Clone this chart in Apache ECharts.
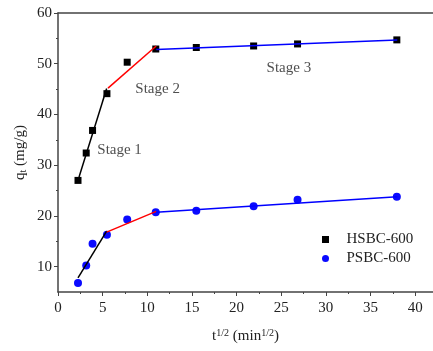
<!DOCTYPE html>
<html><head><meta charset="utf-8">
<script src="https://cdn.jsdelivr.net/npm/echarts@6/dist/echarts.min.js"></script>
<style>html,body{margin:0;padding:0;background:#fff}#c{width:433px;height:351px}</style>
</head><body><div id="c"></div>
<script>
const tSqrt = [2.24, 3.16, 3.87, 5.48, 7.75, 10.95, 15.49, 21.91, 26.83, 37.95];
const hsbc = [27.0, 32.4, 36.85, 44.1, 50.3, 52.9, 53.2, 53.5, 53.9, 54.7];
const psbc = [6.75, 10.2, 14.5, 16.3, 19.3, 20.7, 21.0, 21.9, 23.2, 23.8];
const hsbcStage1 = [[2.24, 27.0], [5.45, 45.1]];
const hsbcStage2 = [[5.6, 45.2], [11.0, 53.5]];
const hsbcStage3 = [[11.0, 52.8], [38.0, 54.7]];
const psbcStage1 = [[2.24, 7.8], [5.45, 17.0]];
const psbcStage2 = [[5.45, 16.8], [11.0, 20.9]];
const psbcStage3 = [[11.0, 20.7], [38.0, 23.8]];
const stageLabels = ['Stage 1', 'Stage 2', 'Stage 3'];
const stageX = [4.4, 8.66, 23.36];
const stageY = [33.0, 45.0, 49.15];
const xTicks = [0, 5, 10, 15, 20, 25, 30, 35, 40];
const xMinorTicks = [2.5, 7.5, 12.5, 17.5, 22.5, 27.5, 32.5, 37.5];
const yTicks = [10, 20, 30, 40, 50, 60];
const yMinorTicks = [15, 25, 35, 45, 55];

const FONT = 'Liberation Serif';
const TXT = '#222';
const AX = '#444';
const SQUARE = 'path://M0,0L10,0L10,10L0,10Z';
const chart = echarts.init(document.getElementById('c'), null, {renderer: 'canvas'});

function fitLine(data, color) {
  return {type: 'line', data: data, showSymbol: false, symbol: 'none', silent: true,
    lineStyle: {color: color, width: 1.5}, z: 3, animation: false};
}

chart.setOption({
  animation: false,
  backgroundColor: '#fff',
  grid: {left: 58, top: 13, width: 375, height: 279, containLabel: false},
  legend: {
    data: ['HSBC-600', 'PSBC-600'], orient: 'vertical', left: 317, top: 227,
    itemWidth: 32, itemHeight: 7, itemGap: 4, symbolKeepAspect: true,
    textStyle: {fontFamily: FONT, fontSize: 15, color: TXT}
  },
  xAxis: [
    {type: 'value', min: 0, max: 42, position: 'bottom',
      name: '{t|t}{s|1/2}{t| (min}{s|1/2}{t|)}', nameLocation: 'middle', nameGap: 36,
      nameTextStyle: {rich: {t: {fontFamily: FONT, fontSize: 15, color: TXT, verticalAlign: 'bottom'},
        s: {fontFamily: FONT, fontSize: 10, color: TXT, verticalAlign: 'top', padding: [0, 0, 6, 0]}}},
      axisLine: {show: true, onZero: false, lineStyle: {color: AX, width: 1.5}},
      axisTick: {show: true, customValues: xTicks, length: 4, lineStyle: {color: AX, width: 1}},
      axisLabel: {customValues: xTicks, fontFamily: FONT, fontSize: 15, color: TXT, margin: 9},
      splitLine: {show: false}},
    {type: 'value', min: 0, max: 42, position: 'bottom',
      axisLine: {show: false},
      axisTick: {show: true, customValues: xMinorTicks, length: 2, lineStyle: {color: AX, width: 1}},
      axisLabel: {show: false}, splitLine: {show: false}},
    {type: 'value', min: 0, max: 42, position: 'top',
      axisLine: {show: true, onZero: false, lineStyle: {color: AX, width: 1.5}},
      axisTick: {show: false}, axisLabel: {show: false}, splitLine: {show: false}}
  ],
  yAxis: [
    {type: 'value', min: 5, max: 60, position: 'left',
      name: '{t|q}{b|t}{t| (mg/g)}', nameLocation: 'middle', nameRotate: 90, nameGap: 30,
      nameMoveOverlap: false,
      nameTextStyle: {rich: {t: {fontFamily: FONT, fontSize: 15, color: TXT},
        b: {fontFamily: FONT, fontSize: 10, color: TXT, verticalAlign: 'bottom', padding: [6, 0, 0, 0]}}},
      axisLine: {show: true, onZero: false, lineStyle: {color: AX, width: 1.5}},
      axisTick: {show: true, customValues: yTicks, length: 4, lineStyle: {color: AX, width: 1}},
      axisLabel: {customValues: yTicks, fontFamily: FONT, fontSize: 15, color: TXT, margin: 6},
      splitLine: {show: false}},
    {type: 'value', min: 5, max: 60, position: 'left',
      axisLine: {show: false},
      axisTick: {show: true, customValues: yMinorTicks, length: 2, lineStyle: {color: AX, width: 1}},
      axisLabel: {show: false}, splitLine: {show: false}}
  ],
  series: [
    {name: 'HSBC-600', type: 'scatter', symbol: SQUARE, symbolSize: 7, symbolKeepAspect: true,
      itemStyle: {color: '#000', opacity: 1}, data: tSqrt.map((x, i) => [x, hsbc[i]]), z: 2},
    {name: 'PSBC-600', type: 'scatter', symbol: 'circle', symbolSize: 8,
      itemStyle: {color: '#0a0aff', opacity: 1}, data: tSqrt.map((x, i) => [x, psbc[i]]), z: 2},
    fitLine(hsbcStage1, '#000'), fitLine(hsbcStage2, '#ff0000'), fitLine(hsbcStage3, '#0000ff'),
    fitLine(psbcStage1, '#000'), fitLine(psbcStage2, '#ff0000'), fitLine(psbcStage3, '#0000ff'),
    {name: 'stages', type: 'scatter', symbolSize: 0, silent: true,
      data: stageX.map((x, i) => [x, stageY[i], stageLabels[i]]),
      label: {show: true, position: 'right', distance: 0, formatter: p => p.data[2],
        fontFamily: FONT, fontSize: 15, color: TXT, align: 'left', verticalAlign: 'middle'}}
  ]
});
</script>
</body></html>
